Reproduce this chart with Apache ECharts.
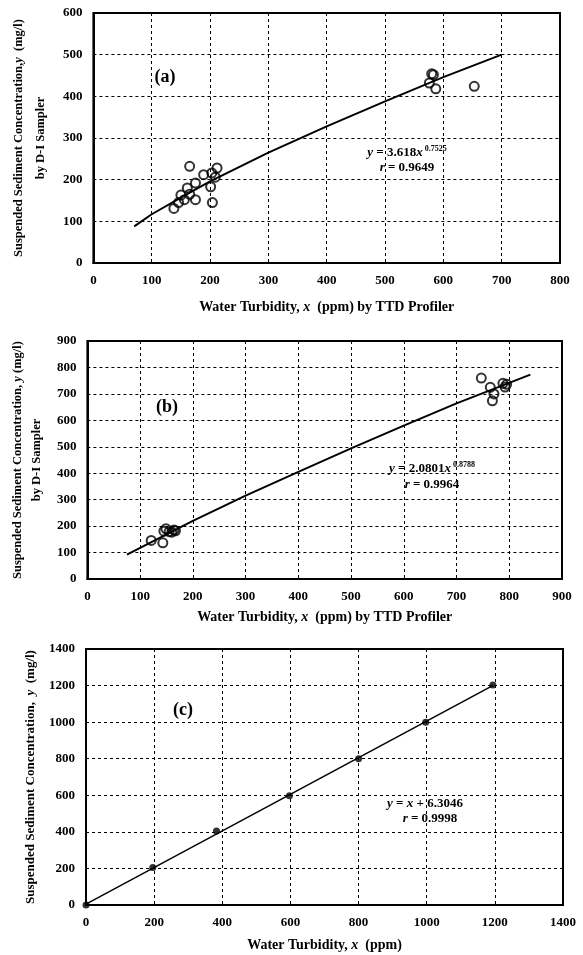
<!DOCTYPE html>
<html>
<head>
<meta charset="utf-8">
<script src="https://cdn.jsdelivr.net/npm/echarts@6/dist/echarts.min.js"></script>
<style>
  html, body { margin: 0; padding: 0; background: #fff; }
  #chart { width: 583px; height: 955px; }
</style>
</head>
<body>
<div id="chart"></div>
<script>
// panel (a): turbidity (ppm) vs D-I sampler concentration (mg/l)
const aTurbidity = [138, 146, 150, 156, 161, 165, 165, 175, 175, 189, 201, 204, 203, 209, 212, 576, 580, 583, 587, 653];
const aConcentration = [131, 145, 163, 152, 180, 165, 232, 192, 152, 212, 183, 145, 216, 206, 228, 432, 454, 452, 418, 424];
const aFitX = [70, 100, 150, 200, 300, 400, 500, 600, 700];
const aFitY = [88, 117, 157, 196, 265, 328, 388, 446, 500];

// panel (b)
const bTurbidity = [121, 143, 145, 149, 155, 160, 164, 167, 747, 764, 771, 768, 788, 792, 795];
const bConcentration = [146, 137, 181, 190, 179, 177, 185, 182, 760, 725, 700, 674, 740, 726, 736];
const bFitX = [75, 200, 300, 400, 500, 600, 700, 840];
const bFitY = [92, 220, 315, 405, 494, 580, 664, 773];

// panel (c)
const cTurbidity = [0, 196, 383, 597, 800, 997, 1194];
const cConcentration = [0, 205, 405, 598, 800, 1000, 1203];
const cFitX = [0, 1195];
const cFitY = [5, 1201];

// axis ranges: [max x, x step, max y, y step]
const aAxis = [800, 100, 600, 100];
const bAxis = [900, 100, 900, 100];
const cAxis = [1400, 200, 1400, 200];

const serif = "'Liberation Serif', 'Times New Roman', serif";
const zip = (xs, ys) => xs.map((x, i) => [x, ys[i]]);

const chart = echarts.init(document.getElementById('chart'), null, { renderer: 'canvas' });

const grids = [
  { left: 83, top: 13, width: 477, height: 250 },
  { left: 84, top: 341, width: 478, height: 238 },
  { left: 86, top: 649, width: 477, height: 256 }
].map(g => Object.assign(g, { show: true, borderColor: '#000', borderWidth: 2, containLabel: false }));

const italic = { fontStyle: 'italic', fontFamily: serif, fontWeight: 'bold', fontSize: 14, color: '#000' };

function xAxis(idx, range, name, gap) {
  return {
    type: 'value', gridIndex: idx, min: 0, max: range[0], interval: range[1],
    name: name, nameLocation: 'middle', nameGap: gap,
    nameTextStyle: { fontFamily: serif, fontWeight: 'bold', fontSize: 14, color: '#000', rich: { i: italic } },
    axisLine: { show: true, onZero: false, lineStyle: { color: '#000', width: 2 } },
    axisTick: { show: false },
    axisLabel: { margin: 11, fontFamily: serif, fontWeight: 'bold', fontSize: 13, color: '#000', formatter: v => String(v) },
    splitLine: { show: true, lineStyle: { color: '#000', width: 1, type: [3, 3] } }
  };
}

function yAxis(idx, range, name, gap, lh, fs) {
  return {
    type: 'value', gridIndex: idx, min: 0, max: range[2], interval: range[3],
    name: name, nameLocation: 'middle', nameGap: gap,
    nameTextStyle: { fontFamily: serif, fontWeight: 'bold', fontSize: fs, color: '#000', lineHeight: lh,
      rich: { i: Object.assign({}, italic, { fontSize: fs, lineHeight: lh }) } },
    axisLine: { show: true, onZero: false, lineStyle: { color: '#000', width: 2 } },
    axisTick: { show: false },
    axisLabel: { margin: 11, fontFamily: serif, fontWeight: 'bold', fontSize: 13, color: '#000', formatter: v => String(v) },
    splitLine: { show: true, lineStyle: { color: '#000', width: 1, type: [3, 3] } }
  };
}

function scatter(idx, xs, ys) {
  return {
    type: 'scatter', xAxisIndex: idx, yAxisIndex: idx, data: zip(xs, ys),
    symbol: 'circle', symbolSize: 9, silent: true,
    itemStyle: { color: 'rgba(0,0,0,0)', borderColor: '#000', borderWidth: 2 }
  };
}

function fit(idx, xs, ys, w) {
  return {
    type: 'line', xAxisIndex: idx, yAxisIndex: idx, data: zip(xs, ys),
    smooth: false, showSymbol: false, silent: true,
    lineStyle: { color: '#000', width: w }
  };
}

const eqRich = {
  i: { fontStyle: 'italic', fontFamily: serif, fontWeight: 'bold', fontSize: 13, fill: '#000' },
  s: { fontFamily: serif, fontWeight: 'bold', fontSize: 8, fill: '#000', padding: [0, 0, 9, 2] },
  n: { fontFamily: serif, fontWeight: 'bold', fontSize: 13, fill: '#000' }
};

function label(x, y, text, size) {
  return {
    type: 'text', x: x, y: y, silent: true,
    style: { text: text, fontFamily: serif, fontWeight: 'bold', fontSize: size || 13, fill: '#000',
      align: 'center', verticalAlign: 'middle', rich: eqRich }
  };
}

chart.setOption({
  backgroundColor: '#fff',
  animation: false,
  grid: grids,
  xAxis: [
    xAxis(0, aAxis, 'Water Turbidity, {i|x}  (ppm) by TTD Profiler', 37),
    xAxis(1, bAxis, 'Water Turbidity, {i|x}  (ppm) by TTD Profiler', 31),
    xAxis(2, cAxis, 'Water Turbidity, {i|x}  (ppm)', 33)
  ],
  yAxis: [
    yAxis(0, aAxis, 'Suspended Sediment Concentration,{i|y}  (mg/l)\nby D-I Sampler', 35, 22, 12.5),
    yAxis(1, bAxis, 'Suspended Sediment Concentration, {i|y} (mg/l)\nby D-I Sampler', 40, 19, 12.5),
    yAxis(2, cAxis, 'Suspended Sediment Concentration,  {i|y}  (mg/l)', 44, 14, 13)
  ],
  series: [
    fit(0, aFitX, aFitY, 2),
    scatter(0, aTurbidity, aConcentration),
    fit(1, bFitX, bFitY, 2),
    scatter(1, bTurbidity, bConcentration),
    fit(2, cFitX, cFitY, 1.5),
    {
      type: 'scatter', xAxisIndex: 2, yAxisIndex: 2, data: zip(cTurbidity, cConcentration),
      symbol: 'circle', symbolSize: 7, silent: true, itemStyle: { color: '#000' }
    }
  ],
  graphic: [
    label(165, 77, '(a)', 18),
    label(407, 153, '{i|y}{n| = 3.618}{i|x}{s|0.7525}'),
    label(407, 168, '{i|r}{n| = 0.9649}'),
    label(167, 407, '(b)', 18),
    label(432, 469, '{i|y}{n| = 2.0801}{i|x}{s|0.8788}'),
    label(432, 485, '{i|r}{n| = 0.9964}'),
    label(183, 710, '(c)', 18),
    label(425, 804, '{i|y}{n| = }{i|x}{n| + 6.3046}'),
    label(430, 819, '{i|r}{n| = 0.9998}')
  ]
});
</script>
</body>
</html>
